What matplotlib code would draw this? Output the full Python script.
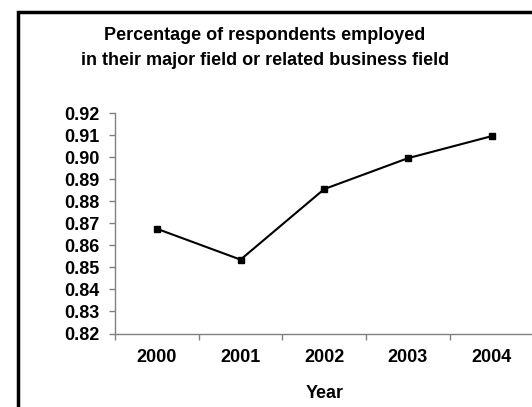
import numpy as np
import matplotlib.pyplot as plt
from matplotlib.patches import Rectangle

plt.rcParams['font.family'] = ['Liberation Sans', 'DejaVu Sans']

# data
years = ['2000', '2001', '2002', '2003', '2004']
pct_employed = [0.8675, 0.8535, 0.8855, 0.8995, 0.9095]
yticks = np.arange(0.82, 0.9201, 0.01)

fig = plt.figure(figsize=(5.32, 4.07), dpi=100)
ax = fig.add_axes([115 / 532, (407 - 333.5) / 407, (533.5 - 115) / 532, (333.5 - 113) / 407])

x = np.arange(len(years))
ax.plot(x, pct_employed, color='black', linewidth=1.5, marker='s', markersize=4.5)

ax.set_xlim(-0.5, len(years) - 0.5)
ax.set_ylim(0.82, 0.92)

# category boundaries get the tick marks, centres get the labels
ax.set_xticks(np.arange(-0.5, len(years), 1.0))
ax.set_xticklabels([])
ax.set_xticks(x, minor=True)
ax.set_xticklabels(years, minor=True, fontsize=13, fontweight='bold')
ax.tick_params(axis='x', which='minor', length=0, pad=11)
ax.tick_params(axis='x', which='major', length=4.3, width=1, color='#808080')

ax.set_yticks(yticks)
ax.set_yticklabels([f'{v:.2f}' for v in yticks], fontsize=13, fontweight='bold')
ax.tick_params(axis='y', length=4.3, width=1, color='#808080', pad=7)

for side in ['top', 'right']:
    ax.spines[side].set_visible(False)
for side in ['left', 'bottom']:
    ax.spines[side].set_color('#808080')
    ax.spines[side].set_linewidth(1)

ax.set_xlabel('Year', fontsize=13, fontweight='bold', labelpad=14)

fig.text(0.498, 1 - 48 / 407, 'Percentage of respondents employed\nin their major field or related business field',
         ha='center', va='center', fontsize=13, fontweight='bold', linespacing=1.55)

# black border around the chart area (runs past the right and bottom edge)
fig.patches.append(Rectangle((18 / 532, -0.1), 1.2, 1 - 12 / 407 + 0.1, transform=fig.transFigure,
                             fill=False, edgecolor='black', linewidth=2.5))

fig.savefig('out.png', dpi=100)
